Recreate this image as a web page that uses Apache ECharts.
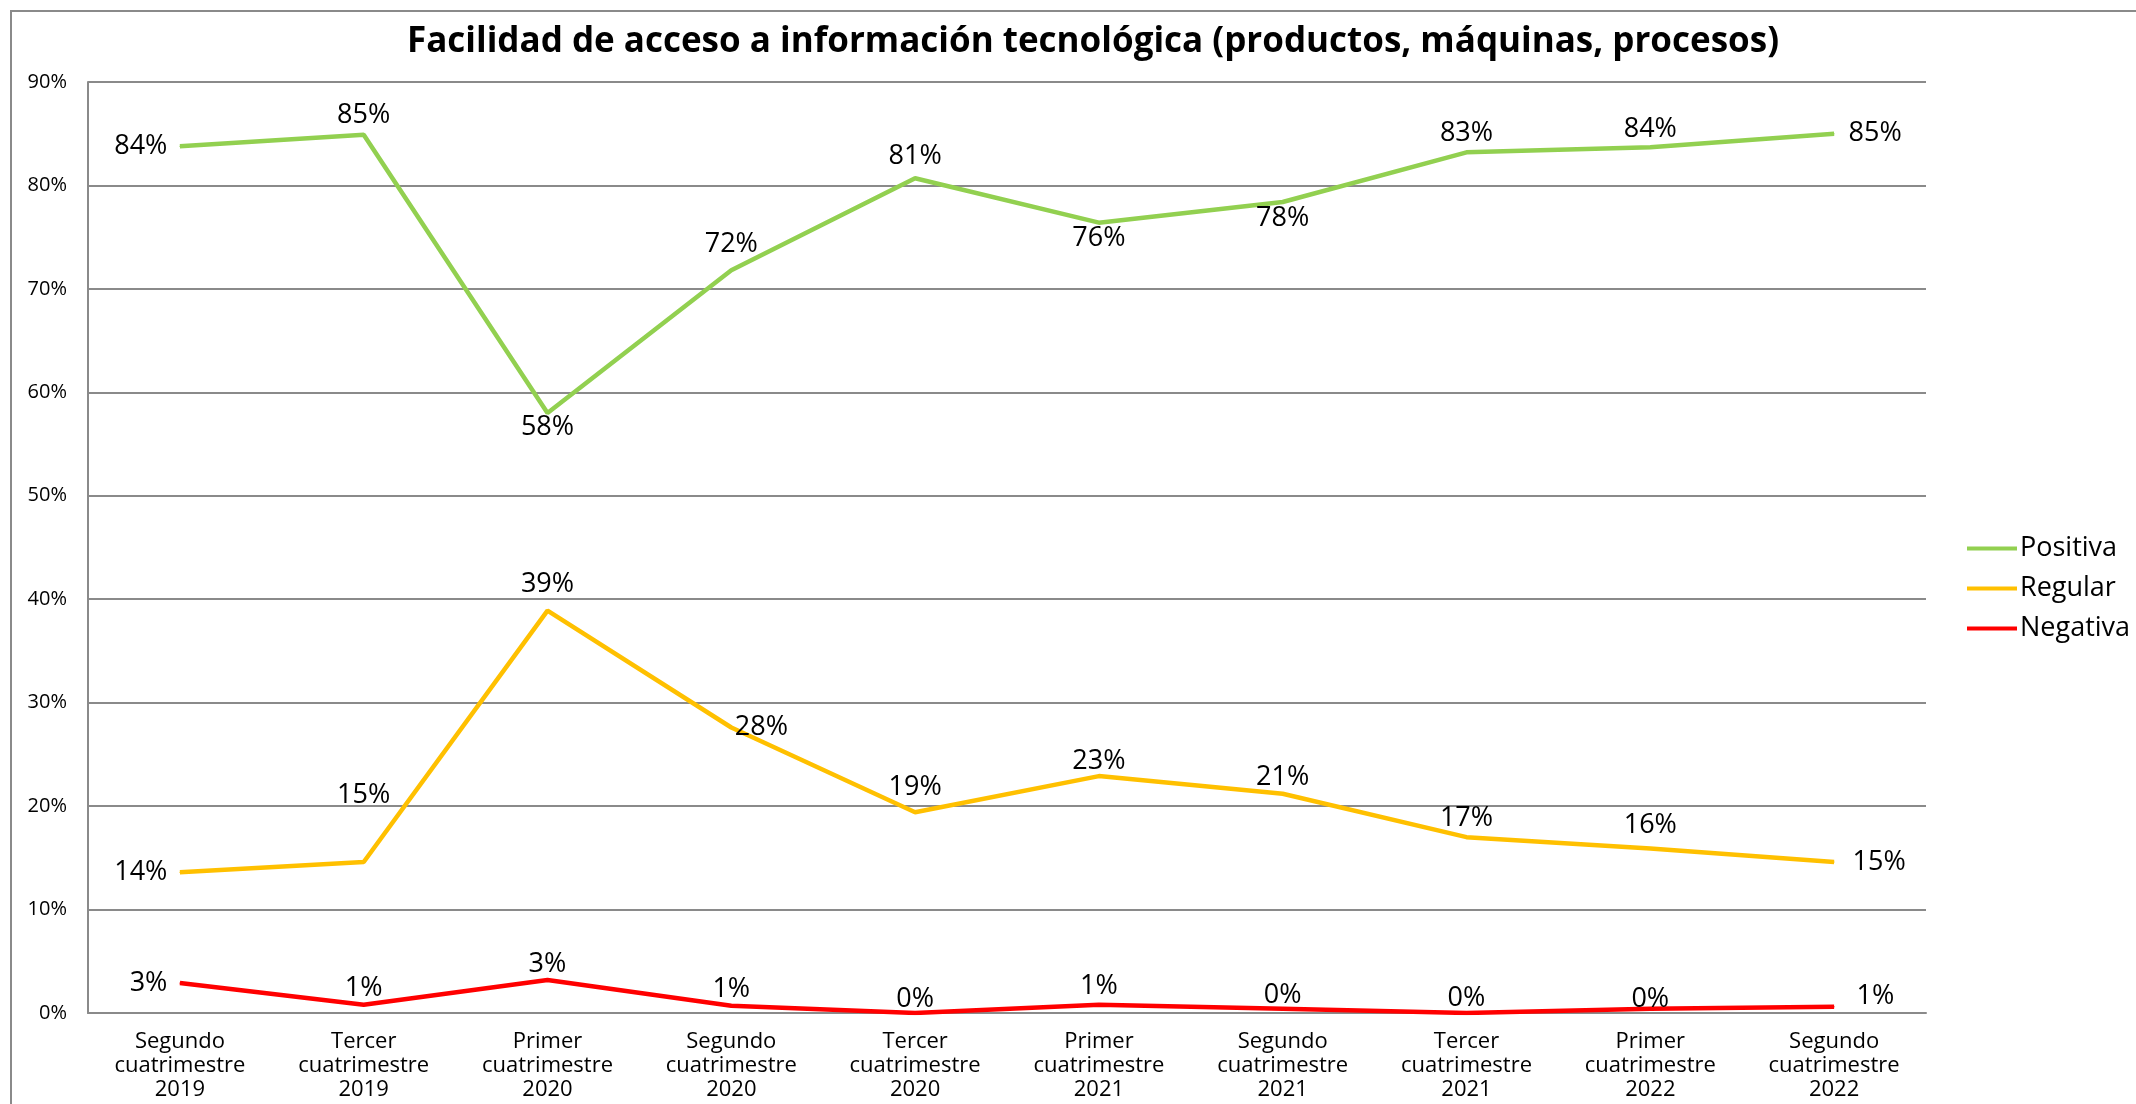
<!DOCTYPE html>
<html>
<head>
<meta charset="utf-8">
<title>Facilidad de acceso a información tecnológica</title>
<script src="https://cdn.jsdelivr.net/npm/echarts@6/dist/echarts.min.js"></script>
<style>
  html, body { margin: 0; padding: 0; background: #fff; }
  #chart { width: 2136px; height: 1104px; }
</style>
</head>
<body>
<div id="chart"></div>
<script>
const categories = [
  'Segundo\ncuatrimestre\n2019', 'Tercer\ncuatrimestre\n2019', 'Primer\ncuatrimestre\n2020',
  'Segundo\ncuatrimestre\n2020', 'Tercer\ncuatrimestre\n2020', 'Primer\ncuatrimestre\n2021',
  'Segundo\ncuatrimestre\n2021', 'Tercer\ncuatrimestre\n2021', 'Primer\ncuatrimestre\n2022',
  'Segundo\ncuatrimestre\n2022'
]
// valores en %
const positiva = [83.8, 84.9, 58.0, 71.8, 80.7, 76.4, 78.4, 83.2, 83.7, 85.0]
const regular = [13.6, 14.6, 38.9, 27.6, 19.4, 22.9, 21.2, 17.0, 15.9, 14.6]
const negativa = [2.9, 0.8, 3.2, 0.7, 0.0, 0.8, 0.4, 0.0, 0.4, 0.6]
const yTicks = [0, 10, 20, 30, 40, 50, 60, 70, 80, 90]

// donde va cada etiqueta (como en el original)
const posPositiva = ['left', 'top', 'bottom', 'top', 'top', 'bottom', 'bottom', 'top', 'top', 'right']
const posRegular = ['left', 'top', 'top', 'right', 'top', 'top', 'top', 'top', 'top', 'right']
const posNegativa = ['left', 'top', 'top', 'top', 'top', 'top', 'top', 'top', 'top', 'right']
const distPositiva = [12, 5, 0, 12, 8, 2, 2, 5, 4, 14]
const distRegular = [12, 53, 12, 3, 11, 1, 2, 5, 9, 18]
const distNegativa = [12, 2, 2, 2, 0, 4, 0, 1, -4, 22]
const dyNegativa = [0, 0, 0, 0, 0, 0, 0, 0, 0, -10]

const FONT = 'Open Sans'
const chart = echarts.init(document.getElementById('chart'))

function withLabels(values, positions, dists, dy) {
  return values.map((v, i) => ({
    value: v,
    label: { position: positions[i], distance: dists[i], offset: [0, dy ? dy[i] : 0] }
  }))
}

function makeSeries(name, color, values, positions, dists, dy) {
  return {
    name: name,
    type: 'line',
    symbol: 'circle',
    symbolSize: 1,
    showSymbol: true,
    lineStyle: { color: color, width: 4.5 },
    itemStyle: { color: color },
    label: {
      show: true,
      color: '#000',
      fontFamily: FONT,
      fontSize: 27,
      formatter: p => Math.round(p.value) + '%'
    },
    data: withLabels(values, positions, dists, dy)
  }
}

chart.setOption({
  backgroundColor: '#fff',
  animation: false,
  textStyle: { fontFamily: FONT },
  graphic: [{
    type: 'rect',
    shape: { x: 11, y: 11, width: 2300, height: 1300 },
    style: { fill: 'none', stroke: '#8a8a8a', lineWidth: 2 },
    silent: true
  }],
  title: {
    text: 'Facilidad de acceso a información tecnológica (productos, máquinas, procesos)',
    left: 1088,
    top: 20,
    textAlign: 'center',
    textStyle: { fontFamily: FONT, fontWeight: 'bold', fontSize: 35, color: '#000' }
  },
  legend: {
    orient: 'vertical',
    left: 1962,
    top: 530,
    itemWidth: 50,
    itemHeight: 4,
    itemGap: 13,
    icon: 'rect',
    textStyle: { fontFamily: FONT, fontSize: 27, color: '#000', padding: [0, 0, 0, -2] },
    data: ['Positiva', 'Regular', 'Negativa']
  },
  grid: { left: 88, right: 210, top: 82, bottom: 91, containLabel: false },
  xAxis: {
    type: 'category',
    data: categories,
    boundaryGap: true,
    axisLine: { lineStyle: { color: '#8a8a8a', width: 2 } },
    axisTick: { show: false },
    axisLabel: { color: '#000', fontFamily: FONT, fontSize: 22, lineHeight: 24, margin: 17, interval: 0 }
  },
  yAxis: {
    type: 'value',
    min: yTicks[0],
    max: yTicks[yTicks.length - 1],
    interval: 10,
    axisLine: { show: true, lineStyle: { color: '#8a8a8a', width: 2 } },
    axisTick: { show: false },
    axisLabel: { color: '#000', fontFamily: FONT, fontSize: 20, margin: 21, formatter: '{value}%' },
    splitLine: { lineStyle: { color: '#8a8a8a', width: 2 } }
  },
  series: [
    makeSeries('Positiva', '#92D050', positiva, posPositiva, distPositiva),
    makeSeries('Regular', '#FFC000', regular, posRegular, distRegular),
    makeSeries('Negativa', '#FF0000', negativa, posNegativa, distNegativa, dyNegativa)
  ]
})
</script>
</body>
</html>
